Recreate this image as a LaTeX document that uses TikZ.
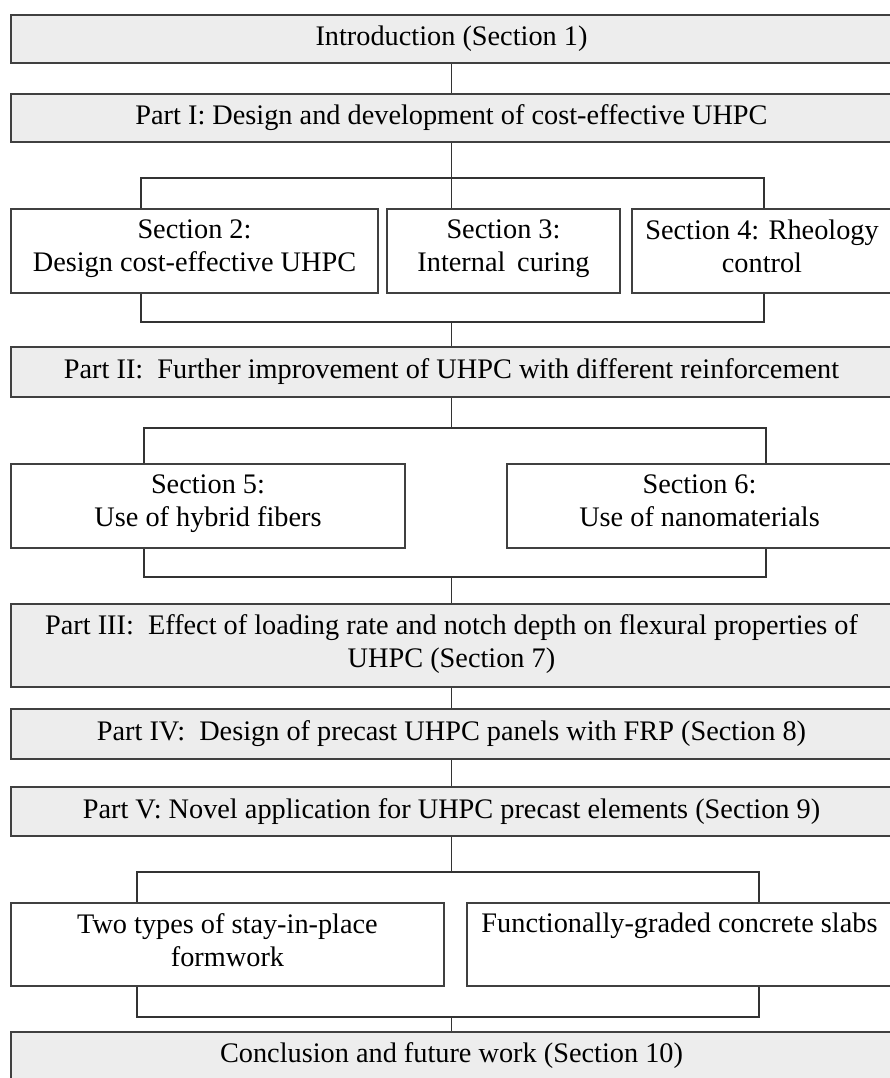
\documentclass[tikz,border=0pt]{standalone}
\usepackage{fontspec}
\setmainfont{Liberation Serif}
\usepackage{tikz}
\usetikzlibrary{positioning}

\begin{document}
\begin{tikzpicture}[x=0.5pt,y=-0.5pt,
   every node/.style={font=\fontsize{14.15}{16.5}\selectfont,inner sep=0pt,align=center,
      execute at begin node=\strut,execute at end node=\strut},
   part/.style={draw=black!75,line width=1pt,fill=black!7,minimum width=440.5pt,minimum height=24pt},
   sec/.style={draw=black!75,line width=1pt,fill=white,minimum height=42pt},
   link/.style={draw=black!80,line width=0.6pt}]
   \useasboundingbox (0,0) rectangle (890,1078);
   % spine of parts
   \node[part] (intro) at (451.5,39) {Introduction (Section 1)};
   \node[part] (p1) at (451.5,118) {Part I: Design and development of cost-effective UHPC};
   \node[part,minimum height=25pt] (p2) at (451.5,372) {Part II:~ Further improvement of UHPC with different reinforcement};
   \node[part,minimum height=41.5pt] (p3) at (451.5,645.5) {Part III:~ Effect of loading rate and notch depth on flexural properties of\\\strut UHPC (Section 7)};
   \node[part,minimum height=25pt] (p4) at (451.5,734) {Part IV:~ Design of precast UHPC panels with FRP (Section 8)};
   \node[part,minimum height=24.5pt] (p5) at (451.5,811.5) {Part V: Novel application for UHPC precast elements (Section 9)};
   \node[part] (concl) at (451.5,1056) {Conclusion and future work (Section 10)};
   % sections
   \node[sec,minimum width=183.5pt] (s2) at (194.5,251) {Section 2:\\\strut Design cost-effective UHPC};
   \node[sec,minimum width=116.5pt] (s3) at (503.5,251) {Section 3:\\\strut Internal\, curing};
   \node[sec,minimum width=130pt] (s4) at (762,251) {Section 4: Rheology\\\strut control};
   \node[sec,minimum width=197pt] (s5) at (208,506) {Section 5:\\\strut Use of hybrid fibers};
   \node[sec,minimum width=192.5pt] (s6) at (699.5,506) {Section 6:\\\strut Use of nanomaterials};
   \node[sec,minimum width=216.5pt,minimum height=41.5pt] (sip) at (227.5,944.5) {Two types of stay-in-place\\\strut formwork};
   \node[sec,minimum width=212.5pt,minimum height=41.5pt] (fgc) at (679.5,944.5) {Functionally-graded concrete slabs\\\strut};
   % bracket corners
   \coordinate (f1l) at (141,178);  \coordinate (f1r) at (764,178);
   \coordinate (j1l) at (141,322);  \coordinate (j1r) at (764,322);  \coordinate (j1) at (451.5,322);
   \coordinate (f2)  at (451.5,428);
   \coordinate (f2l) at (144,428);  \coordinate (f2r) at (766,428);
   \coordinate (j2l) at (144,577);  \coordinate (j2r) at (766,577);  \coordinate (j2) at (451.5,577);
   \coordinate (f3)  at (451.5,872);
   \coordinate (f3l) at (137,872);  \coordinate (f3r) at (759,872);
   \coordinate (j3l) at (137,1017); \coordinate (j3r) at (759,1017); \coordinate (j3) at (451.5,1017);
   % connectors
   \draw[link] (intro) -- (p1);
   \draw[link] (p1) -- (p1 |- s3.north);
   \draw[link] (s2.north -| f1l) -- (f1l) -- (f1r) -- (f1r |- s4.north);
   \draw[link] (s2.south -| j1l) -- (j1l) -- (j1r) -- (j1r |- s4.south);
   \draw[link] (j1) -- (p2);
   \draw[link] (p2) -- (f2);
   \draw[link] (s5.north -| f2l) -- (f2l) -- (f2r) -- (f2r |- s6.north);
   \draw[link] (s5.south -| j2l) -- (j2l) -- (j2r) -- (j2r |- s6.south);
   \draw[link] (j2) -- (p3);
   \draw[link] (p3) -- (p4);
   \draw[link] (p4) -- (p5);
   \draw[link] (p5) -- (f3);
   \draw[link] (sip.north -| f3l) -- (f3l) -- (f3r) -- (f3r |- fgc.north);
   \draw[link] (sip.south -| j3l) -- (j3l) -- (j3r) -- (j3r |- fgc.south);
   \draw[link] (j3) -- (concl);
\end{tikzpicture}
\end{document}
